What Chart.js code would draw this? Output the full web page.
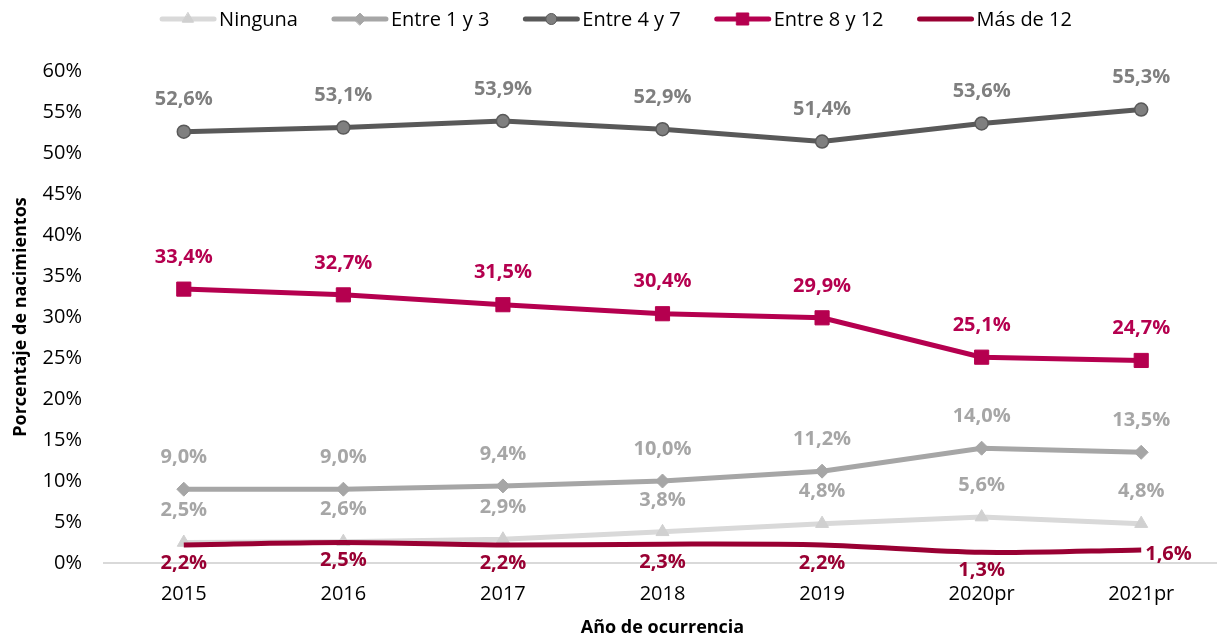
<!DOCTYPE html>
<html>
<head>
<meta charset="utf-8">
<script src="https://cdn.jsdelivr.net/npm/chart.js@4"></script>
<style>
  html, body { margin: 0; padding: 0; background: #ffffff; overflow: hidden; }
  #wrap { position: relative; width: 1232px; height: 639px; }
</style>
</head>
<body>
<div id="wrap"><canvas id="c"></canvas></div>
<script>
// ---- data ----
const categories = ["2015", "2016", "2017", "2018", "2019", "2020pr", "2021pr"];
const seriesNames = ["Ninguna", "Entre 1 y 3", "Entre 4 y 7", "Entre 8 y 12", "Más de 12"];
const ninguna   = [2.5, 2.6, 2.9, 3.8, 4.8, 5.6, 4.8];
const entre1y3  = [9.0, 9.0, 9.4, 10.0, 11.2, 14.0, 13.5];
const entre4y7  = [52.6, 53.1, 53.9, 52.9, 51.4, 53.6, 55.3];
const entre8y12 = [33.4, 32.7, 31.5, 30.4, 29.9, 25.1, 24.7];
const masDe12   = [2.2, 2.5, 2.2, 2.3, 2.2, 1.3, 1.6];
const yTicks    = [0, 5, 10, 15, 20, 25, 30, 35, 40, 45, 50, 55, 60];

const FONT = "'Open Sans', 'Noto Sans', sans-serif";
const fmt = v => v.toFixed(1).replace('.', ',') + '%';

const styles = [
  { line: '#d9d9d9', fill: '#d0d0d0', border: '#d0d0d0', label: '#a6a6a6', point: 'triangle', r: 7.5, pos: 'above' },
  { line: '#a6a6a6', fill: '#a6a6a6', border: '#a6a6a6', label: '#a6a6a6', point: 'rectRot', r: 7, pos: 'above' },
  { line: '#595959', fill: '#7f7f7f', border: '#595959', label: '#7f7f7f', point: 'circle', r: 6.5, pos: 'above' },
  { line: '#b5004f', fill: '#b5004f', border: '#b5004f', label: '#b5004f', point: 'rect', r: 10, pos: 'above' },
  { line: '#990033', fill: '#990033', border: '#990033', label: '#990033', point: false, r: 0, pos: 'below' }
];
const values = [ninguna, entre1y3, entre4y7, entre8y12, masDe12];

const datasets = values.map((vals, i) => ({
  label: seriesNames[i],
  data: vals,
  borderColor: styles[i].line,
  backgroundColor: styles[i].fill,
  pointBackgroundColor: styles[i].fill,
  pointBorderColor: styles[i].border,
  pointBorderWidth: i === 2 ? 1.5 : 1,
  pointStyle: styles[i].point,
  pointRadius: styles[i].r,
  pointHoverRadius: styles[i].r,
  borderWidth: 5,
  tension: i === 4 ? 0.3 : 0,
  order: i === 4 ? 0 : (5 - i)
}));

const labelPlugin = {
  id: 'vlabels',
  afterDatasetsDraw(chart) {
    const ctx = chart.ctx;
    ctx.save();
    ctx.font = "bold 20px " + FONT;
    ctx.textAlign = 'center';
    ctx.textBaseline = 'middle';
    chart.data.datasets.forEach((ds, i) => {
      const meta = chart.getDatasetMeta(i);
      ctx.fillStyle = styles[i].label;
      meta.data.forEach((pt, j) => {
        const txt = fmt(ds.data[j]);
        if (i === 4 && j === ds.data.length - 1) {
          ctx.textAlign = 'left';
          ctx.fillText(txt, pt.x + 4, pt.y + 4);
          ctx.textAlign = 'center';
        } else if (styles[i].pos === 'below') {
          ctx.fillText(txt, pt.x, pt.y + 18);
        } else {
          ctx.fillText(txt, pt.x, pt.y - 32);
        }
      });
    });
    ctx.restore();
  }
};

const legendPlugin = {
  id: 'clegend',
  afterDraw(chart) {
    const ctx = chart.ctx;
    ctx.save();
    ctx.font = "20px " + FONT;
    ctx.textBaseline = 'middle';
    const sample = 56, gap = 3, spacing = 34;
    const widths = seriesNames.map(n => ctx.measureText(n).width);
    const total = widths.reduce((a, w) => a + sample + gap + w, 0) + spacing * (seriesNames.length - 1);
    let x = 616 - total / 2;
    const y = 19;
    seriesNames.forEach((n, i) => {
      const s = styles[i];
      ctx.strokeStyle = s.line;
      ctx.lineWidth = 5;
      ctx.lineCap = 'round';
      ctx.beginPath();
      ctx.moveTo(x + 2, y);
      ctx.lineTo(x + sample - 2, y);
      ctx.stroke();
      if (s.point) {
        ctx.fillStyle = s.fill;
        ctx.strokeStyle = s.border;
        ctx.lineWidth = 1;
        Chart.helpers.drawPoint(ctx, { pointStyle: s.point, radius: s.r * 0.85, borderWidth: 1, rotation: 0 }, x + sample / 2, y);
      }
      ctx.fillStyle = '#000000';
      ctx.textAlign = 'left';
      ctx.fillText(n, x + sample + gap, y + 1);
      x += sample + gap + widths[i] + spacing;
    });
    ctx.restore();
  }
};

new Chart(document.getElementById('c'), {
  type: 'line',
  data: { labels: categories, datasets: datasets },
  options: {
    responsive: true,
    maintainAspectRatio: false,
    animation: false,
    layout: { padding: { top: 71, left: 10, right: 8, bottom: 0 } },
    plugins: { legend: { display: false }, tooltip: { enabled: false } },
    scales: {
      x: {
        offset: true,
        afterFit(scale) { scale.height = 76; scale.paddingLeft = 0; scale.paddingRight = 0; },
        grid: { display: false, drawTicks: false },
        border: { display: true, color: '#d9d9d9', width: 2 },
        ticks: { color: '#000000', font: { family: FONT, size: 20 }, padding: 19, maxRotation: 0 },
        title: { display: true, text: 'Año de ocurrencia', color: '#000000',
                 font: { family: FONT, size: 18, weight: 'bold' }, padding: { top: 6, bottom: 0 } }
      },
      y: {
        min: 0, max: 60,
        afterBuildTicks(scale) { scale.ticks = yTicks.map(v => ({ value: v })); },
        afterFit(scale) { scale.width = 94; scale.paddingTop = 0; scale.paddingBottom = 0; },
        grid: { display: false, drawTicks: false },
        border: { display: false },
        ticks: { color: '#000000', font: { family: FONT, size: 20 }, padding: 22,
                 callback: v => v + '%' },
        title: { display: true, text: 'Porcentaje de nacimientos', color: '#000000',
                 font: { family: FONT, size: 18, weight: 'bold' }, padding: { top: 0, bottom: 6 } }
      }
    }
  },
  plugins: [labelPlugin, legendPlugin]
});
</script>
</body>
</html>
